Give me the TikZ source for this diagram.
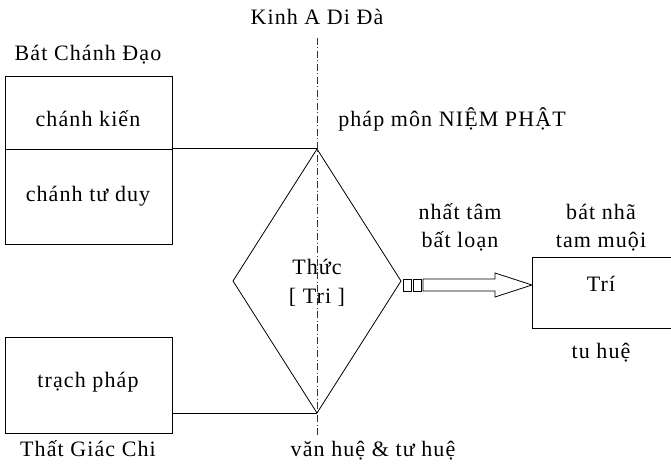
\documentclass[tikz,border=0pt]{standalone}
\usepackage{fontspec}
\setmainfont{Liberation Serif}[LetterSpace=5]
\usetikzlibrary{shapes.geometric,calc}
\tikzset{
  box/.style={draw=black, line width=0.8pt, rectangle, inner sep=0pt, outer sep=0pt},
  lbl/.style={anchor=base, inner sep=0pt, font=\fontsize{22}{26}\selectfont},
  conn/.style={draw=black, line width=1pt},
  axis/.style={draw=black!80, line width=0.6pt, dash pattern=on 7pt off 2.5pt on 1pt off 2.5pt},
  fat/.style={draw=black, line width=0.8pt, fill=white}
}
\begin{document}
\begin{tikzpicture}[x=1pt,y=-1pt]
\useasboundingbox (0,0) rectangle (671,465);
% vertical axis
\coordinate (axtop) at (317,38);
\coordinate (axbot) at (317,436);
\draw[axis] (axtop) -- (axbot);
% left boxes
\node[box, minimum width=167pt, minimum height=73pt] (kien) at (88.5,112.5) {};
\node[box, minimum width=167pt, minimum height=95pt] (tuduy) at (88.5,196.5) {};
\node[box, minimum width=167pt, minimum height=96pt] (trach) at (88.5,385) {};
% diamond
\node[diamond, draw=black, line width=0.8pt, inner sep=0pt, outer sep=0pt,
      minimum width=168pt, minimum height=264pt] (thuc) at (317,281) {};
% connectors
\draw[conn] (kien.south east) -- (thuc.north);
\draw[conn] (trach.east |- thuc.south) -- (thuc.south);
% Tri box
\node[box, minimum width=143pt, minimum height=71pt] (tri) at (603.5,292.5) {};
% block arrow
\coordinate (a0) at (403,285);
\draw[fat] ($(a0)+(0,-6)$) rectangle ($(a0)+(8,6)$);
\draw[fat] ($(a0)+(10,-6)$) rectangle ($(a0)+(18,6)$);
\draw[fat] ($(a0)+(20,-6)$) -- ($(a0)+(92,-6)$) -- ($(a0)+(92,-12)$) -- (tri.west |- a0)
  -- ($(a0)+(92,12)$) -- ($(a0)+(92,6)$) -- ($(a0)+(20,6)$) -- cycle;
% texts
\node[lbl] (t1) at (317,25) {Kinh A Di Đà};
\node[lbl] (t2) at (88,61) {Bát Chánh Đạo};
\node[lbl] (t3) at (88,127) {chánh kiến};
\node[lbl] (t4) at (88,201) {chánh tư duy};
\node[lbl] (t5) at (452,127) {pháp môn NIỆM PHẬT};
\node[lbl] (t6) at (460,219) {nhất tâm};
\node[lbl] (t7) at (460,247) {bất loạn};
\node[lbl] (t8) at (601,219) {bát nhã};
\node[lbl] (t9) at (601,247) {tam muội};
\node[lbl] (t10) at (317,274) {Thức};
\node[lbl] (t11) at (317,303) {[ Tri ]};
\node[lbl] (t12) at (601,291) {Trí};
\node[lbl] (t13) at (601,358) {tu huệ};
\node[lbl] (t14) at (88,387) {trạch pháp};
\node[lbl] (t15) at (88,456) {Thất Giác Chi};
\node[lbl] (t16) at (373,456) {văn huệ \& tư huệ};
\end{tikzpicture}
\end{document}
